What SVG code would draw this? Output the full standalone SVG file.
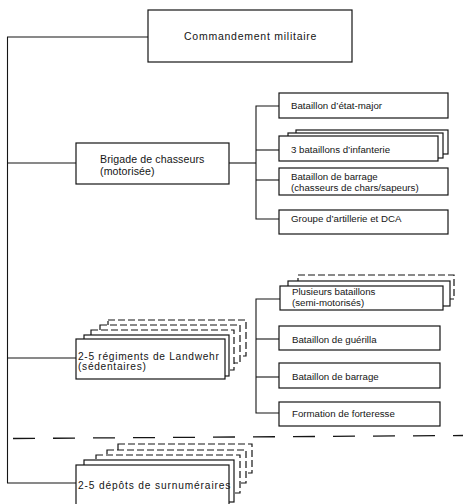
<svg xmlns="http://www.w3.org/2000/svg" width="463" height="504" viewBox="0 0 463 504">
<style>
.b{fill:#fff;stroke:#151515;stroke-width:1.2}
.d{fill:#fff;stroke:#151515;stroke-width:1.2;stroke-dasharray:7 3}
.c{fill:none;stroke:#151515;stroke-width:1.1}
text{font-family:"Liberation Sans",Arial,sans-serif;fill:#151515}
.s{font-size:9.7px}
.m{font-size:10.5px}
</style>
<rect width="463" height="504" fill="#fff"/>
<g id="connectors">
<polyline class="c" points="148,37 7.5,37 7.5,483 76,483"/>
<line class="c" x1="7.5" y1="163" x2="76" y2="163"/>
<line class="c" x1="7.5" y1="358" x2="76" y2="358"/>
<line class="c" x1="229" y1="163" x2="256" y2="163"/>
<polyline class="c" points="279,106 256,106 256,219 279,219"/>
<line class="c" x1="256" y1="150" x2="279" y2="150"/>
<line class="c" x1="256" y1="180" x2="279" y2="180"/>
<polyline class="c" points="280,299 256,299 256,413 279,413"/>
<line class="c" x1="256" y1="339" x2="279" y2="339"/>
<line class="c" x1="256" y1="377" x2="279" y2="377"/>
<line class="c" x1="13" y1="438.5" x2="463" y2="435.5" style="stroke-width:1.3;stroke-dasharray:22 18"/>
</g>
<g id="commandement">
<rect class="b" x="148" y="10" width="204" height="52"/>
<text class="m" x="184" y="40" style="letter-spacing:0.75px">Commandement militaire</text>
</g>
<g id="brigade">
<rect class="b" x="76" y="143" width="153" height="41"/>
<text x="100" y="163" style="font-size:10.6px;letter-spacing:0.1px">Brigade de chasseurs</text>
<text x="100" y="174.5" style="font-size:10.6px;letter-spacing:0.1px">(motorisée)</text>
</g>
<g id="etat-major">
<rect class="b" x="279" y="93" width="169" height="25"/>
<text class="s" x="291" y="108.5">Bataillon d’état-major</text>
</g>
<g id="infanterie">
<rect class="b" x="296" y="130" width="152" height="24"/>
<rect class="b" x="288" y="133" width="155" height="25"/>
<rect class="b" x="279" y="136" width="159" height="25"/>
<text class="s" x="291" y="153">3 bataillons d’infanterie</text>
</g>
<g id="barrage1">
<rect class="b" x="279" y="168" width="169" height="27"/>
<text class="s" x="291" y="179.5">Bataillon de barrage</text>
<text class="s" x="291" y="191">(chasseurs de chars/sapeurs)</text>
</g>
<g id="artillerie">
<rect class="b" x="279" y="210" width="169" height="24"/>
<text class="s" x="291" y="222">Groupe d’artillerie et DCA</text>
</g>
<g id="landwehr">
<rect class="d" x="108" y="320" width="138" height="36"/>
<rect class="d" x="100" y="325" width="140" height="38"/>
<rect class="d" x="91" y="330" width="143" height="40"/>
<rect class="b" x="84" y="335" width="145" height="41"/>
<rect class="b" x="76" y="339" width="149" height="40"/>
<text x="78" y="359.5" style="font-size:10.2px;letter-spacing:0.7px">2-5 régiments de Landwehr</text>
<text x="78" y="370" style="font-size:10.2px;letter-spacing:0.7px">(sédentaires)</text>
</g>
<g id="plusieurs">
<rect class="d" x="298" y="275" width="156" height="24"/>
<rect class="b" x="288" y="281" width="162" height="25"/>
<rect class="b" x="280" y="286" width="163" height="24"/>
<text class="s" x="292" y="294.5">Plusieurs bataillons</text>
<text class="s" x="292" y="305.5">(semi-motorisés)</text>
</g>
<g id="guerilla">
<rect class="b" x="279" y="326" width="161" height="24"/>
<text class="s" x="292" y="342.5">Bataillon de guérilla</text>
</g>
<g id="barrage2">
<rect class="b" x="279" y="363" width="161" height="25"/>
<text class="s" x="292" y="379.5">Bataillon de barrage</text>
</g>
<g id="forteresse">
<rect class="b" x="279" y="402" width="161" height="24"/>
<text class="s" x="292" y="417">Formation de forteresse</text>
</g>
<g id="depots">
<rect class="d" x="118" y="444" width="134" height="29"/>
<rect class="d" x="107" y="450" width="139" height="33"/>
<rect class="d" x="96" y="455" width="144" height="38"/>
<rect class="b" x="84" y="460" width="150" height="42"/>
<rect class="b" x="76" y="465" width="153" height="50"/>
<text x="78" y="489" style="font-size:10.2px;letter-spacing:0.85px">2-5 dépôts de surnuméraires</text>
</g>
</svg>
